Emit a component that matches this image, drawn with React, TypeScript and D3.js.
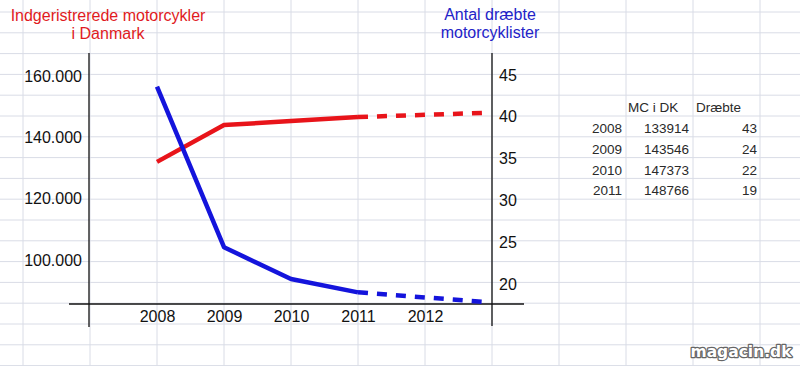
import React, { useEffect, useRef } from "react";
import * as d3 from "d3";

// values (not the table)
const years = [2008, 2009, 2010, 2011];
const mcValues = [132000, 144000, 145300, 146600];
const deadValues = [43.6, 24.4, 20.6, 19.0];
// dashed projection beyond 2011
const projYears = [2011, 2012.9];
const mcProj = [146600, 148000];
const deadProj = [19.0, 17.85];

const xLabels = ["2008", "2009", "2010", "2011", "2012"];
const leftTicks = [100000, 120000, 140000, 160000];
const rightTicks = [20, 25, 30, 35, 40, 45];

const tableYears = ["2008", "2009", "2010", "2011"];
const tableMc = ["133914", "143546", "147373", "148766"];
const tableDead = ["43", "24", "22", "19"];

const W = 800;
const H = 366;

const App = () => {
    const svgRef = useRef(null);

    useEffect(() => {
        const svg = d3.select(svgRef.current);
        svg.selectAll("*").remove();

        const font = "'Liberation Sans', Arial, sans-serif";

        // spreadsheet grid
        const colW = 67;
        const rowH = 20.8;
        const grid = svg.append("g").attr("stroke", "#d9dce6").attr("stroke-width", 1);
        d3.range(23, W, colW).forEach((x) => {
            grid.append("line").attr("x1", x).attr("x2", x).attr("y1", 0).attr("y2", H);
        });
        d3.range(12, H, rowH).forEach((y) => {
            grid.append("line").attr("x1", 0).attr("x2", W).attr("y1", y).attr("y2", y);
        });

        const x = d3.scaleLinear().domain([2008, 2012]).range([157, 425]);
        const yLeft = d3.scaleLinear().domain([100000, 160000]).range([260, 76]);
        const yRight = d3.scaleLinear().domain([20, 45]).range([284, 75]);

        // axis lines
        const axes = svg.append("g").attr("stroke", "#111").attr("stroke-width", 1.3);
        axes.append("line").attr("x1", 89).attr("x2", 89).attr("y1", 53).attr("y2", 327);
        axes.append("line").attr("x1", 492).attr("x2", 492).attr("y1", 53).attr("y2", 326);
        axes.append("line").attr("x1", 69).attr("x2", 524).attr("y1", 304).attr("y2", 304);

        const locale = d3.formatLocale({ decimal: ",", thousands: ".", grouping: [3], currency: ["", ""] });
        const fmt = locale.format(",d");

        const left = svg
            .append("g")
            .attr("transform", "translate(89,0)")
            .call(d3.axisLeft(yLeft).tickValues(leftTicks).tickSize(0).tickPadding(7).tickFormat((d) => fmt(d as number)));
        left.select(".domain").remove();

        const right = svg
            .append("g")
            .attr("transform", "translate(492,0)")
            .call(d3.axisRight(yRight).tickValues(rightTicks).tickSize(0).tickPadding(7));
        right.select(".domain").remove();

        const xPoint = d3.scalePoint().domain(xLabels).range([x(2008), x(2012)]);
        const bottom = svg
            .append("g")
            .attr("transform", "translate(0,304)")
            .call(d3.axisBottom(xPoint).tickSize(0).tickPadding(7));
        bottom.select(".domain").remove();

        svg.selectAll(".tick text")
            .attr("font-family", font)
            .attr("font-size", "16px")
            .attr("fill", "#111");

        // lines
        const lineLeft = d3
            .line<number>()
            .x((_d, i) => x(years[i]))
            .y((d) => yLeft(d));
        const lineRight = d3
            .line<number>()
            .x((_d, i) => x(years[i]))
            .y((d) => yRight(d));
        const projLeft = d3
            .line<number>()
            .x((_d, i) => x(projYears[i]))
            .y((d) => yLeft(d));
        const projRight = d3
            .line<number>()
            .x((_d, i) => x(projYears[i]))
            .y((d) => yRight(d));

        const red = "#e8141a";
        const blue = "#1414dc";

        svg.append("path").attr("d", projLeft(mcProj)).attr("fill", "none").attr("stroke", red)
            .attr("stroke-width", 4.5).attr("stroke-dasharray", "10,9");
        svg.append("path").attr("d", projRight(deadProj)).attr("fill", "none").attr("stroke", blue)
            .attr("stroke-width", 4.5).attr("stroke-dasharray", "10,9");
        svg.append("path").attr("d", lineLeft(mcValues)).attr("fill", "none").attr("stroke", red)
            .attr("stroke-width", 4.5).attr("stroke-linejoin", "round");
        svg.append("path").attr("d", lineRight(deadValues)).attr("fill", "none").attr("stroke", blue)
            .attr("stroke-width", 4.5).attr("stroke-linejoin", "round");

        // titles
        const titleL = svg.append("text").attr("font-family", font).attr("font-size", "16px")
            .attr("fill", "#e01a22").attr("text-anchor", "middle");
        titleL.append("tspan").attr("x", 108).attr("y", 21).text("Indgeristrerede motorcykler");
        titleL.append("tspan").attr("x", 108).attr("y", 39).text("i Danmark");

        const titleR = svg.append("text").attr("font-family", font).attr("font-size", "16px")
            .attr("fill", "#2323c8").attr("text-anchor", "middle");
        titleR.append("tspan").attr("x", 490).attr("y", 20).text("Antal dræbte");
        titleR.append("tspan").attr("x", 490).attr("y", 38).text("motorcyklister");

        // data table
        const table = svg.append("g").attr("font-family", font).attr("font-size", "13.5px").attr("fill", "#2a2a2a");
        table.append("text").attr("x", 628).attr("y", 112).text("MC i DK");
        table.append("text").attr("x", 696).attr("y", 112).text("Dræbte");
        tableYears.forEach((yr, i) => {
            const yy = 133 + i * rowH;
            table.append("text").attr("x", 622).attr("y", yy).attr("text-anchor", "end").text(yr);
            table.append("text").attr("x", 689).attr("y", yy).attr("text-anchor", "end").text(tableMc[i]);
            table.append("text").attr("x", 757).attr("y", yy).attr("text-anchor", "end").text(tableDead[i]);
        });

        // watermark
        svg.append("text")
            .attr("x", 741)
            .attr("y", 357)
            .attr("text-anchor", "middle")
            .attr("font-family", "'DejaVu Sans', sans-serif")
            .attr("font-weight", "bold")
            .attr("font-size", "15.5px")
            .attr("fill", "#fff")
            .attr("stroke", "#666")
            .attr("stroke-width", 2.5)
            .attr("stroke-linejoin", "round")
            .attr("paint-order", "stroke")
            .text("magacin.dk");
    }, []);

    return (
        <svg
            ref={svgRef}
            width={W}
            height={H}
            style={{ position: "absolute", left: 0, top: 0, background: "#fff" }}
        ></svg>
    );
};

export default App;
